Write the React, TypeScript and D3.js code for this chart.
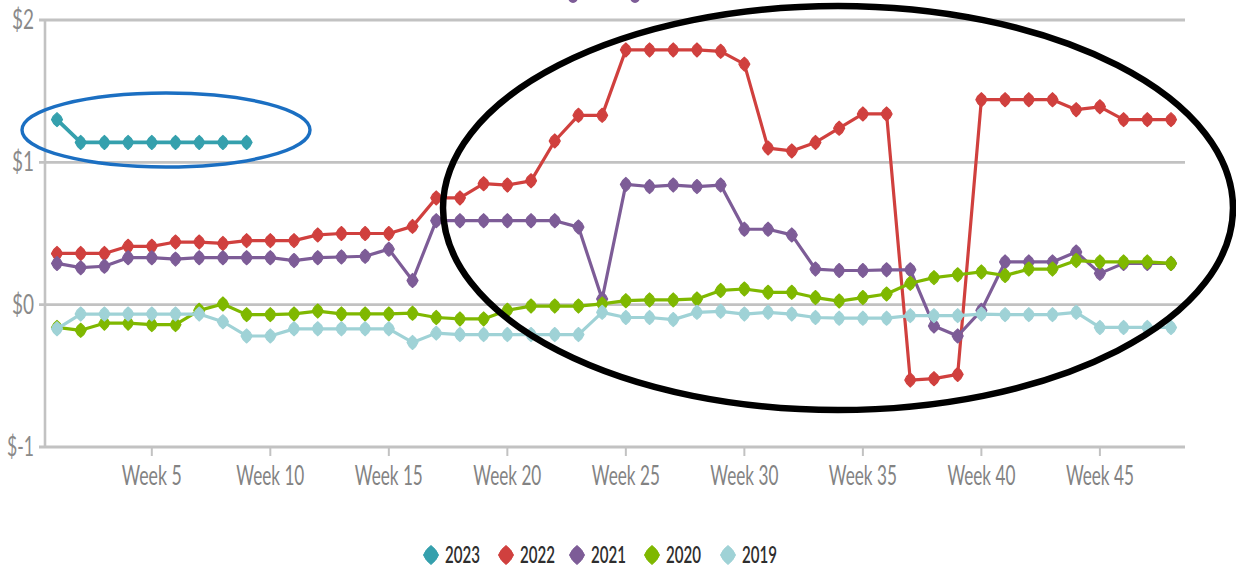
import React from "react";
import * as d3 from "d3";

const weeks: number[] = d3.range(1, 49);
const tickWeeks: number[] = [5, 10, 15, 20, 25, 30, 35, 40, 45];
const yTicks: number[] = [2, 1, 0, -1];
const yTickLabels: string[] = ["$2", "$1", "$0", "$-1"];

const v2023: number[] = [1.30, 1.14, 1.14, 1.14, 1.14, 1.14, 1.14, 1.14, 1.14];
const v2022: number[] = [
  0.36, 0.36, 0.36, 0.41, 0.41, 0.44, 0.44, 0.43, 0.45, 0.45, 0.45, 0.49, 0.50, 0.50, 0.50, 0.55,
  0.75, 0.75, 0.85, 0.84, 0.87, 1.15, 1.33, 1.33, 1.79, 1.79, 1.79, 1.79, 1.78, 1.69, 1.10, 1.08,
  1.14, 1.24, 1.34, 1.34, -0.53, -0.52, -0.49, 1.44, 1.44, 1.44, 1.44, 1.37, 1.39, 1.30, 1.30, 1.30,
];
const v2021: number[] = [
  0.29, 0.26, 0.27, 0.33, 0.33, 0.32, 0.33, 0.33, 0.33, 0.33, 0.31, 0.33, 0.335, 0.34, 0.39, 0.17,
  0.59, 0.59, 0.59, 0.59, 0.59, 0.59, 0.545, 0.04, 0.845, 0.83, 0.84, 0.83, 0.84, 0.53, 0.53, 0.49,
  0.25, 0.24, 0.24, 0.245, 0.245, -0.15, -0.22, -0.04, 0.30, 0.30, 0.30, 0.37, 0.22, 0.29, 0.29, 0.29,
];
const v2020: number[] = [
  -0.16, -0.18, -0.13, -0.13, -0.14, -0.14, -0.04, 0.005, -0.07, -0.07, -0.065, -0.045, -0.065, -0.065, -0.065, -0.06,
  -0.09, -0.10, -0.10, -0.04, -0.01, -0.01, -0.01, 0.005, 0.028, 0.033, 0.033, 0.04, 0.10, 0.11, 0.087, 0.087,
  0.05, 0.025, 0.05, 0.075, 0.15, 0.19, 0.21, 0.23, 0.205, 0.25, 0.25, 0.31, 0.30, 0.30, 0.30, 0.29,
];
const v2019: number[] = [
  -0.17, -0.066, -0.066, -0.066, -0.066, -0.066, -0.066, -0.12, -0.22, -0.22, -0.17, -0.17, -0.17, -0.17, -0.17, -0.265,
  -0.20, -0.21, -0.21, -0.21, -0.21, -0.21, -0.21, -0.054, -0.09, -0.09, -0.105, -0.054, -0.047, -0.066, -0.054, -0.066,
  -0.09, -0.095, -0.095, -0.095, -0.077, -0.077, -0.077, -0.066, -0.07, -0.07, -0.07, -0.054, -0.16, -0.16, -0.16, -0.16,
];

const seriesNames: string[] = ["2023", "2022", "2021", "2020", "2019"];
const seriesColors: string[] = ["#35a0ad", "#d0403e", "#7d5c97", "#7fb800", "#9fd2d6"];
const seriesValues: number[][] = [v2023, v2022, v2021, v2020, v2019];

const W = 1236;
const H = 571;

export default function App() {
  const x = d3.scaleLinear().domain([1, 48]).range([57, 1171]);
  const y = d3.scaleLinear().domain([-1, 2]).range([447, 20]);
  const line = d3
    .line<number>()
    .x((_, i) => x(weeks[i]))
    .y((d) => y(d));
  const marker = "M0,-7 Q4,-4.2 5.5,0 Q4,4.2 0,7 Q-4,4.2 -5.5,0 Q-4,-4.2 0,-7 Z";
  const legendMarker = "M0,-9.5 Q5.5,-5.5 7.5,0 Q5.5,5.5 0,9.5 Q-5.5,5.5 -7.5,0 Q-5.5,-5.5 0,-9.5 Z";
  const gridColor = "#c2c2c2";
  const labelFont = "Lato, 'Open Sans', sans-serif";

  return (
    <svg width={W} height={H} style={{ position: "absolute", left: 0, top: 0, background: "#fff" }}>
      <rect x={0} y={0} width={W} height={H} fill="#fff" />
      {/* cut-off header marks */}
      <ellipse cx={573} cy={-3} rx={5} ry={6} fill="#7d5c97" />
      <ellipse cx={635} cy={-3} rx={5} ry={6} fill="#7d5c97" />

      {/* gridlines */}
      {yTicks.map((t) => (
        <line key={"g" + t} x1={39} x2={1185} y1={y(t)} y2={y(t)} stroke={gridColor} strokeWidth={2.8} />
      ))}
      <line x1={45} x2={45} y1={y(2)} y2={y(-1)} stroke={gridColor} strokeWidth={2.6} />
      {tickWeeks.map((w) => (
        <line key={"t" + w} x1={x(w)} x2={x(w)} y1={y(-1)} y2={y(-1) + 9} stroke={gridColor} strokeWidth={2} />
      ))}
      {yTicks.map((t, i) => (
        <text
          key={"yl" + t}
          x={34}
          y={y(t) + 9}
          textAnchor="end"
          fontFamily={labelFont}
          fontSize={26}
          fill="#8a8a8a"
          textLength={yTickLabels[i].length === 2 ? 22 : 27}
          lengthAdjust="spacingAndGlyphs"
        >
          {yTickLabels[i]}
        </text>
      ))}
      {tickWeeks.map((w) => {
        const label = "Week " + w;
        return (
          <text
            key={"xl" + w}
            x={x(w)}
            y={485}
            textAnchor="middle"
            fontFamily={labelFont}
            fontSize={27}
            fill="#838383"
            textLength={w < 10 ? 60 : 68}
            lengthAdjust="spacingAndGlyphs"
          >
            {label}
          </text>
        );
      })}

      {/* series */}
      {seriesValues.map((vals, si) => (
        <g key={"s" + si}>
          <path d={line(vals) || ""} fill="none" stroke={seriesColors[si]} strokeWidth={si === 0 ? 3.8 : 3.2} strokeLinejoin="round" />
          {vals.map((v, i) => (
            <path
              key={i}
              d={marker}
              transform={`translate(${x(weeks[i])},${y(v)})`}
              fill={seriesColors[si]}
              stroke={seriesColors[si]}
              strokeWidth={1.2}
              strokeLinejoin="round"
            />
          ))}
        </g>
      ))}

      {/* annotations */}
      <ellipse cx={166} cy={130} rx={144} ry={37} fill="none" stroke="#1b6fc2" strokeWidth={3.4} />
      <ellipse cx={838} cy={208} rx={395} ry={202} fill="none" stroke="#000" strokeWidth={6.5} />

      {/* legend */}
      {seriesNames.map((n, i) => {
        const mx = [431, 506, 577, 652, 728][i];
        return (
          <g key={"lg" + n}>
            <path
              d={legendMarker}
              transform={`translate(${mx},555)`}
              fill={seriesColors[i]}
              stroke={seriesColors[i]}
              strokeWidth={1}
              strokeLinejoin="round"
            />
            <text
              x={mx + 14}
              y={563}
              fontFamily={labelFont}
              fontSize={22}
              fontWeight={600}
              fill="#2e2e2e"
              textLength={35}
              lengthAdjust="spacingAndGlyphs"
            >
              {n}
            </text>
          </g>
        );
      })}
    </svg>
  );
}
